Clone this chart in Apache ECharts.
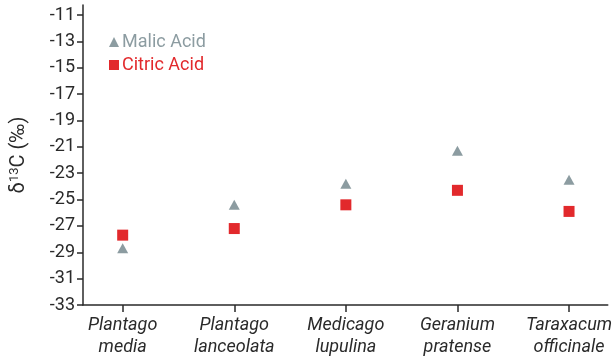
<!DOCTYPE html>
<html>
<head>
<meta charset="utf-8">
<script src="https://cdn.jsdelivr.net/npm/echarts@6/dist/echarts.min.js"></script>
<style>
  html, body { margin: 0; padding: 0; background: #fff; }
  #chart { width: 615px; height: 360px; }
</style>
</head>
<body>
<div id="chart"></div>
<script>
// Species sampled, δ13C values of the two organic acids (‰)
const categories = ['Plantago\nmedia', 'Plantago\nlanceolata', 'Medicago\nlupulina', 'Geranium\npratense', 'Taraxacum\nofficinale'];
const malicAcid = [-28.7, -25.4, -23.8, -21.3, -23.5];
const citricAcid = [-27.7, -27.2, -25.4, -24.3, -25.9];
const yTicks = [-33, -31, -29, -27, -25, -23, -21, -19, -17, -15, -13, -11];

const FONT = "Roboto, 'DejaVu Sans Condensed', sans-serif";
const GREY = '#8c9ca1';
const RED = '#e2292c';
const INK = '#2a2a2a';

const chart = echarts.init(document.getElementById('chart'));
chart.setOption({
  animation: false,
  backgroundColor: '#fff',
  grid: { left: 81, right: 5, top: 5, bottom: 55 },
  legend: {
    orient: 'vertical',
    left: 104,
    top: 28,
    itemWidth: 10,
    itemHeight: 10,
    itemGap: 5,
    textStyle: { fontFamily: FONT, fontSize: 18, padding: [0, 0, 0, -2] },
    data: [
      { name: 'Malic Acid', icon: 'triangle', textStyle: { color: GREY } },
      { name: 'Citric Acid', icon: 'rect', textStyle: { color: RED } }
    ]
  },
  xAxis: {
    type: 'value',
    min: -0.3556,
    max: 4.3467,
    splitLine: { show: false },
    axisLine: { onZero: false, lineStyle: { color: INK, width: 1.5 } },
    axisTick: { show: true, length: 7, customValues: [0, 1, 2, 3, 4], lineStyle: { color: INK, width: 1.5 } },
    axisLabel: {
      customValues: [0, 1, 2, 3, 4],
      formatter: v => categories[Math.round(v)],
      fontFamily: FONT,
      fontStyle: 'italic',
      fontSize: 18,
      lineHeight: 22,
      color: INK,
      margin: 9
    }
  },
  yAxis: {
    type: 'value',
    min: -33,
    max: -10.24,
    splitLine: { show: false },
    axisLine: { show: true, onZero: false, lineStyle: { color: INK, width: 1.5 } },
    axisTick: { show: true, length: 6, customValues: yTicks, lineStyle: { color: INK, width: 1.5 } },
    axisLabel: {
      customValues: yTicks,
      fontFamily: FONT,
      fontSize: 18,
      color: INK,
      margin: 8
    },
    name: '{a|δ}{s|13}{a|C (‰)}',
    nameLocation: 'middle',
    nameGap: 54,
    nameRotate: 90,
    nameTextStyle: {
      rich: {
        a: { fontFamily: FONT, fontSize: 20, color: INK },
        s: { fontFamily: FONT, fontSize: 13, color: INK, verticalAlign: 'top', padding: [0, 0, 8, 0] }
      }
    }
  },
  series: [
    {
      name: 'Malic Acid',
      type: 'scatter',
      symbol: 'triangle',
      symbolSize: [11, 10],
      itemStyle: { color: GREY, opacity: 1 },
      data: malicAcid.map((v, i) => [i, v])
    },
    {
      name: 'Citric Acid',
      type: 'scatter',
      symbol: 'rect',
      symbolSize: 11,
      itemStyle: { color: RED, opacity: 1 },
      data: citricAcid.map((v, i) => [i, v])
    }
  ]
});
</script>
</body>
</html>
